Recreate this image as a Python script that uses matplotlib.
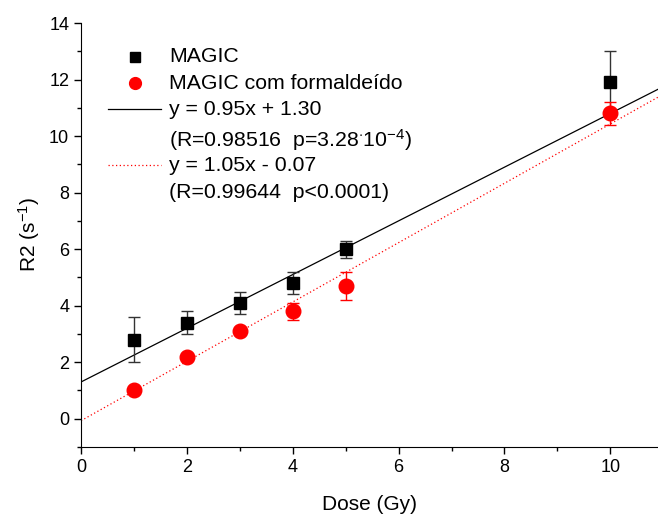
import numpy as np
import matplotlib
matplotlib.use("Agg")
import matplotlib.pyplot as plt
from matplotlib.ticker import MultipleLocator

plt.rcParams["font.family"] = "Liberation Sans"
plt.rcParams["font.size"] = 13
plt.rcParams["mathtext.fontset"] = "custom"
plt.rcParams["mathtext.rm"] = "Liberation Sans"
plt.rcParams["mathtext.it"] = "Liberation Sans:italic"

# Dose points (Gy) and measured R2 values (1/s)
dose = [1, 2, 3, 4, 5, 10]
r2_magic = [2.8, 3.4, 4.1, 4.8, 6.0, 11.9]
err_magic = [0.8, 0.4, 0.4, 0.4, 0.3, 1.1]
r2_form = [1.0, 2.2, 3.1, 3.8, 4.7, 10.8]
err_form = [0.1, 0.1, 0.1, 0.3, 0.5, 0.4]

# Linear fit parameters (slope, intercept)
fit_magic = (0.95, 1.30)
fit_form = (1.05, -0.07)

fig = plt.figure(figsize=(6.58, 5.16), dpi=100, facecolor="w")
ax = fig.add_axes([81 / 658, 69 / 516, 577 / 658, 424 / 516])

xfit = np.array([0, 10.9])
ax.plot(xfit, fit_magic[0] * xfit + fit_magic[1], color="black", lw=0.9)
ax.plot(xfit, fit_form[0] * xfit + fit_form[1], color="red", lw=0.9,
        linestyle=(0, (1, 2)))

ax.errorbar(dose, r2_magic, yerr=err_magic, fmt="s", color="black", ms=9,
            ecolor="#333333", elinewidth=1, capsize=4, capthick=1, zorder=3)
ax.errorbar(dose, r2_form, yerr=err_form, fmt="o", color="red", ms=10.5,
            ecolor="red", elinewidth=1, capsize=4, capthick=1, zorder=4)

ax.set_xlim(0, 10.9)
ax.set_ylim(-1, 14)
ax.xaxis.set_major_locator(MultipleLocator(2))
ax.xaxis.set_minor_locator(MultipleLocator(1))
ax.yaxis.set_major_locator(MultipleLocator(2))
ax.yaxis.set_minor_locator(MultipleLocator(1))
ax.set_yticks(range(0, 15, 2))
ax.tick_params(which="major", direction="out", length=5, width=1)
ax.tick_params(which="minor", direction="out", length=3, width=1)
for s in ["top", "right"]:
    ax.spines[s].set_visible(False)
ax.set_xlabel("Dose (Gy)", fontsize=15, labelpad=14)
ax.set_ylabel("R2 (s$^{-1}$)", fontsize=15, labelpad=5)

# Legend drawn by hand so each fit can carry a second line of statistics
tr = ax.transAxes
fs = 15.3
ax.plot([0.0936], [0.920], "s", color="black", ms=7, transform=tr, clip_on=False)
ax.plot([0.0936], [0.858], "o", color="red", ms=8.5, transform=tr, clip_on=False)
ax.plot([0.047, 0.139], [0.797, 0.797], color="black", lw=0.9, transform=tr)
ax.plot([0.047, 0.139], [0.665, 0.665], color="red", lw=0.9,
        linestyle=(0, (1, 2)), transform=tr)
tx = 0.1525
ax.text(tx, 0.920, "MAGIC", transform=tr, va="center", fontsize=fs)
ax.text(tx, 0.858, "MAGIC com formaldeído", transform=tr, va="center", fontsize=fs)
ax.text(tx, 0.797, "y = %.2fx + %.2f" % fit_magic, transform=tr, va="center", fontsize=fs)
ax.text(tx, 0.724, "(R=0.98516  p=3.28$^{\\cdot}$10$^{-4}$)", transform=tr,
        va="center", fontsize=fs)
ax.text(tx, 0.665, "y = %.2fx - %.2f" % (fit_form[0], -fit_form[1]), transform=tr,
        va="center", fontsize=fs)
ax.text(tx, 0.601, "(R=0.99644  p<0.0001)", transform=tr, va="center", fontsize=fs)

fig.savefig("out.png", dpi=100)
